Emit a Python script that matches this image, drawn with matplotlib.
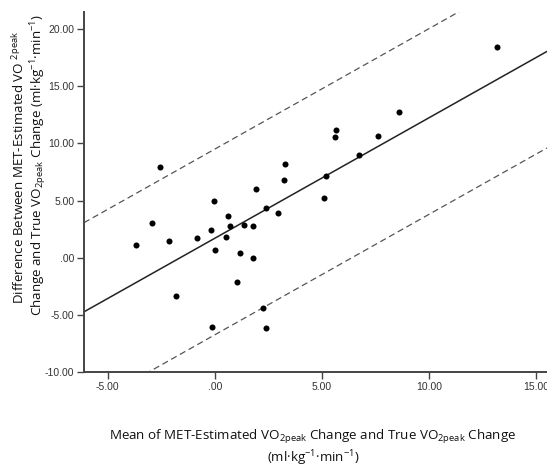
#!/usr/bin/env python3
from matplotlib import pyplot as plt
import numpy as np
"""
Bland-Altman style plot: MET-estimated vs true VO2peak change
"""

# mean of the two changes (x) and their difference (y)
mean_change = [-3.69, -2.92, -2.56, -2.12, -1.82, -0.83, -0.16, -0.02, 0.03, -0.11,
               0.53, 0.64, 0.73, 1.06, 1.20, 1.37, 1.78, 1.79, 1.93, 2.24,
               2.40, 2.40, 2.93, 3.24, 3.27, 5.11, 5.17, 5.59, 5.64, 6.73,
               7.60, 8.60, 13.16]
diff_change = [1.10, 3.06, 7.95, 1.49, -3.32, 1.69, 2.45, 4.95, 0.68, -6.07,
               1.77, 3.64, 2.76, -2.10, 0.44, 2.88, 2.76, -0.06, 5.97, -4.43,
               4.34, -6.15, 3.93, 6.81, 8.18, 5.21, 7.19, 10.54, 11.15, 8.97,
               10.69, 12.76, 18.47]

# fitted line and the two limit lines (slope, intercept)
fit_slope = 1.055
fit_intercept = 1.70
upper_intercept = 9.50
lower_intercept = -6.75

x_ticks = [-5, 0, 5, 10, 15]
y_ticks = [-10, -5, 0, 5, 10, 15, 20]
X_LIM = (-6.1, 15.5)
Y_LIM = (-10, 21.5)


def tick_text(v):
    # SPSS style: ".00" for zero, two decimals otherwise
    if v == 0:
        return ".00"
    return f"{v:.2f}"


def main():
    fig = plt.figure(figsize=(5.47, 4.68), dpi=100)
    ax = fig.add_axes([84 / 547, 1 - 372 / 468, (547 - 84) / 547, (372 - 12) / 468])

    xs = np.array(X_LIM)
    ax.plot(xs, fit_intercept + fit_slope * xs, color="#222222", lw=1.1, zorder=2)
    ax.plot(xs, upper_intercept + fit_slope * xs, color="#555555", lw=0.9,
            dashes=(5, 3), zorder=2)
    ax.plot(xs, lower_intercept + fit_slope * xs, color="#555555", lw=0.9,
            dashes=(5, 3), zorder=2)

    ax.scatter(mean_change, diff_change, s=19, color="black", zorder=3, linewidths=0)

    ax.set_xlim(*X_LIM)
    ax.set_ylim(*Y_LIM)
    ax.set_xticks(x_ticks)
    ax.set_xticklabels([tick_text(v) for v in x_ticks])
    ax.set_yticks(y_ticks)
    ax.set_yticklabels([tick_text(v) for v in y_ticks])

    for side in ("top", "right"):
        ax.spines[side].set_visible(False)
    for side in ("left", "bottom"):
        ax.spines[side].set_color("#444444")
        ax.spines[side].set_linewidth(1.4)
    ax.tick_params(direction="out", length=5, width=1, color="#444444",
                   labelsize=7.5, labelcolor="#333333", pad=2)
    for lab in ax.get_xticklabels() + ax.get_yticklabels():
        lab.set_family("Liberation Sans")

    label_font = dict(family="Open Sans", fontsize=9.6, color="#111111")
    fig.text(313 / 547, 1 - 437 / 468,
             "Mean of MET-Estimated VO$_{\\mathregular{2peak}}$ Change and True VO$_{\\mathregular{2peak}}$ Change",
             ha="center", va="center", **label_font)
    fig.text(313 / 547, 1 - 458 / 468,
             "(ml·kg$^{\\mathregular{-1}}$·min$^{\\mathregular{-1}}$)",
             ha="center", va="center", **label_font)

    fig.text(19 / 547, 1 - 167 / 468,
             "Difference Between MET-Estimated VO $^{\\mathregular{2peak}}$",
             rotation=90, ha="center", va="center", **label_font)
    fig.text(39 / 547, 1 - 165 / 468,
             "Change and True VO$_{\\mathregular{2peak}}$ Change (ml·kg$^{\\mathregular{-1}}$·min$^{\\mathregular{-1}}$)",
             rotation=90, ha="center", va="center", **label_font)

    fig.savefig("out.png", dpi=100)


if __name__ == "__main__":
    main()
